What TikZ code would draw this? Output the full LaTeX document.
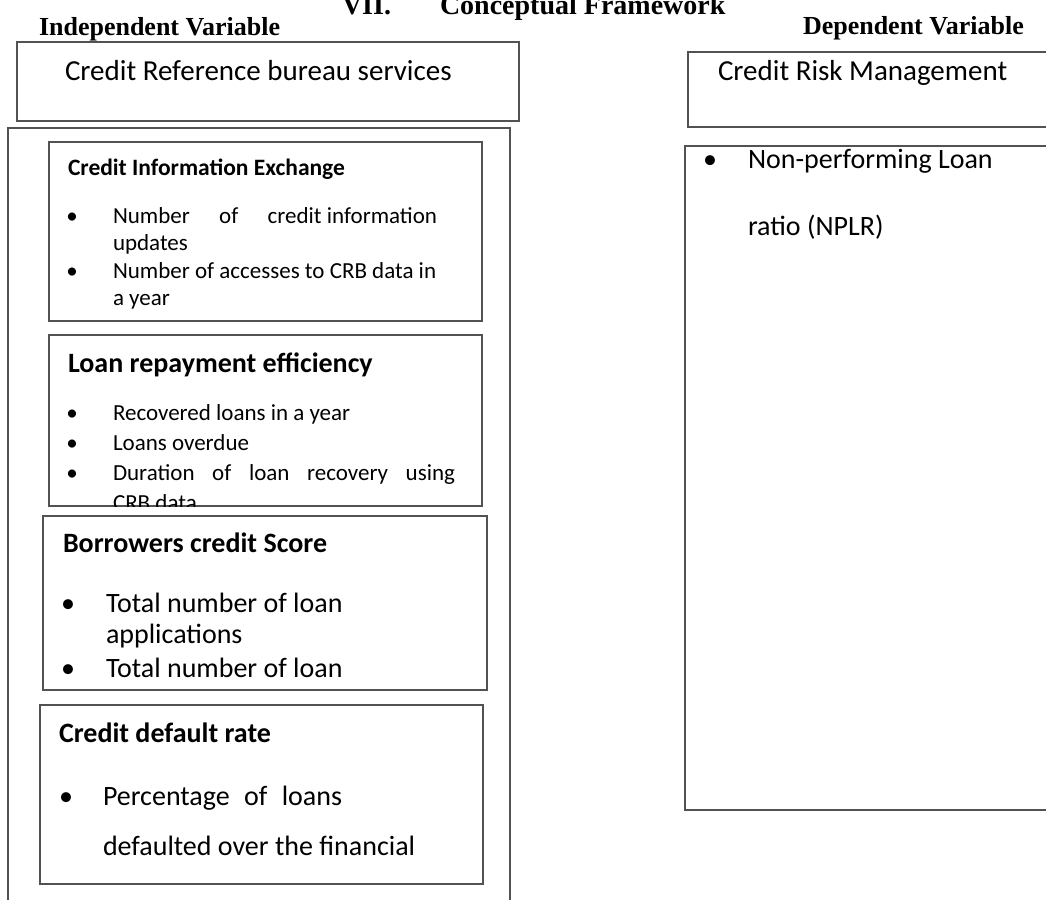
\documentclass[tikz,border=0pt]{standalone}
\usepackage{fontspec}
\setmainfont{Liberation Serif}
\newfontfamily\calib{Carlito}
\tikzset{
  box/.style={draw=black!68, line width=1.3pt, anchor=north west, inner sep=0pt, outer sep=0pt},
  txt/.style={anchor=base west, inner sep=0pt, outer sep=0pt},
  blt/.style={anchor=base, inner sep=0pt, outer sep=0pt},
  ttl/.style={txt, font=\bfseries\fontsize{28}{34}\selectfont},
  var/.style={txt, font=\bfseries\fontsize{26}{31}\selectfont},
  big/.style={txt, font=\calib\fontsize{29}{35}\selectfont},
  hsmall/.style={txt, font=\calib\bfseries\fontsize{23.5}{28}\selectfont},
  hbig/.style={txt, font=\calib\bfseries\fontsize{28}{34}\selectfont},
  tsmall/.style={txt, font=\calib\fontsize{23}{28}\selectfont},
  tbig/.style={txt, font=\calib\fontsize{28}{34}\selectfont},
  bsmall/.style={blt, font=\calib\fontsize{23}{28}\selectfont},
  bbig/.style={blt, font=\calib\fontsize{28}{34}\selectfont},
}
\begin{document}
\begin{tikzpicture}[x=1pt, y=-1pt]
\useasboundingbox (0,0) rectangle (1046,899);

% title and column headings
\node[ttl] (t1) at (342,15) {VII.};
\node[ttl] (t2) at (440,15) {Conceptual Framework};
\node[var] (iv) at (39,36) {Independent Variable};
\node[var] (dv) at (803,35) {Dependent Variable};

% left column boxes
\node[box, minimum width=502pt, minimum height=79pt] (crb) at (17,42) {};
\node[big] (crbt) at (65,80) {Credit Reference bureau services};
\node[box, minimum width=502pt, minimum height=777pt] (outer) at (8,128) {};

\node[box, minimum width=433pt, minimum height=179pt] (cie) at (49,142) {};
\node[hsmall] (ciet) at (68,175) {Credit Information Exchange};
\node[bsmall] (cieb1) at (72,223) {\textbullet};
\node[tsmall] (ciel1) at (113,223) {\makebox[324pt][l]{Number\hfill of\hfill credit information}};
\node[tsmall] (ciel2) at (113,250) {updates};
\node[bsmall] (cieb2) at (72,278) {\textbullet};
\node[tsmall] (ciel3) at (113,278) {Number of accesses to CRB data in};
\node[tsmall] (ciel4) at (113,305) {a year};

\node[box, minimum width=433pt, minimum height=171pt] (lre) at (49,335) {};
\node[hbig] (lret) at (68,372) {Loan repayment efficiency};
\begin{scope}
  \clip (49,335) rectangle (482,506);
  \node[bsmall] (lreb1) at (72,420) {\textbullet};
  \node[tsmall] (lrel1) at (113,420) {Recovered loans in a year};
  \node[bsmall] (lreb2) at (72,450) {\textbullet};
  \node[tsmall] (lrel2) at (113,450) {Loans overdue};
  \node[bsmall] (lreb3) at (72,480) {\textbullet};
  \node[tsmall] (lrel3) at (113,480) {\makebox[342pt][s]{Duration of loan recovery using}};
  \node[tsmall] (lrel4) at (113,510) {CRB data};
\end{scope}

\node[box, minimum width=444pt, minimum height=174pt] (bcs) at (43,516) {};
\node[hbig] (bcst) at (63,552) {Borrowers credit Score};
\node[bbig] (bcsb1) at (68,612) {\textbullet};
\node[tbig] (bcsl1) at (106,612) {Total number of loan};
\node[tbig] (bcsl2) at (106,643) {applications};
\node[bbig] (bcsb2) at (68,677) {\textbullet};
\node[tbig] (bcsl3) at (106,677) {Total number of loan};

\node[box, minimum width=443pt, minimum height=179pt] (cdr) at (40,705) {};
\node[hbig] (cdrt) at (59,742) {Credit default rate};
\node[bbig] (cdrb1) at (66,805) {\textbullet};
\node[tbig] (cdrl1) at (103,805) {\makebox[239pt][s]{Percentage of loans}};
\node[tbig] (cdrl2) at (103,855) {defaulted over the financial};

% right column boxes
\node[box, minimum width=362pt, minimum height=75pt] (crm) at (688,52) {};
\node[big] (crmt) at (718,80) {Credit Risk Management};
\node[box, minimum width=365pt, minimum height=664pt] (npl) at (685,146) {};
\node[bbig] (nplb1) at (710,168) {\textbullet};
\node[tbig] (npll1) at (748,168) {Non-performing Loan};
\node[tbig] (npll2) at (748,235) {ratio (NPLR)};
\end{tikzpicture}
\end{document}
